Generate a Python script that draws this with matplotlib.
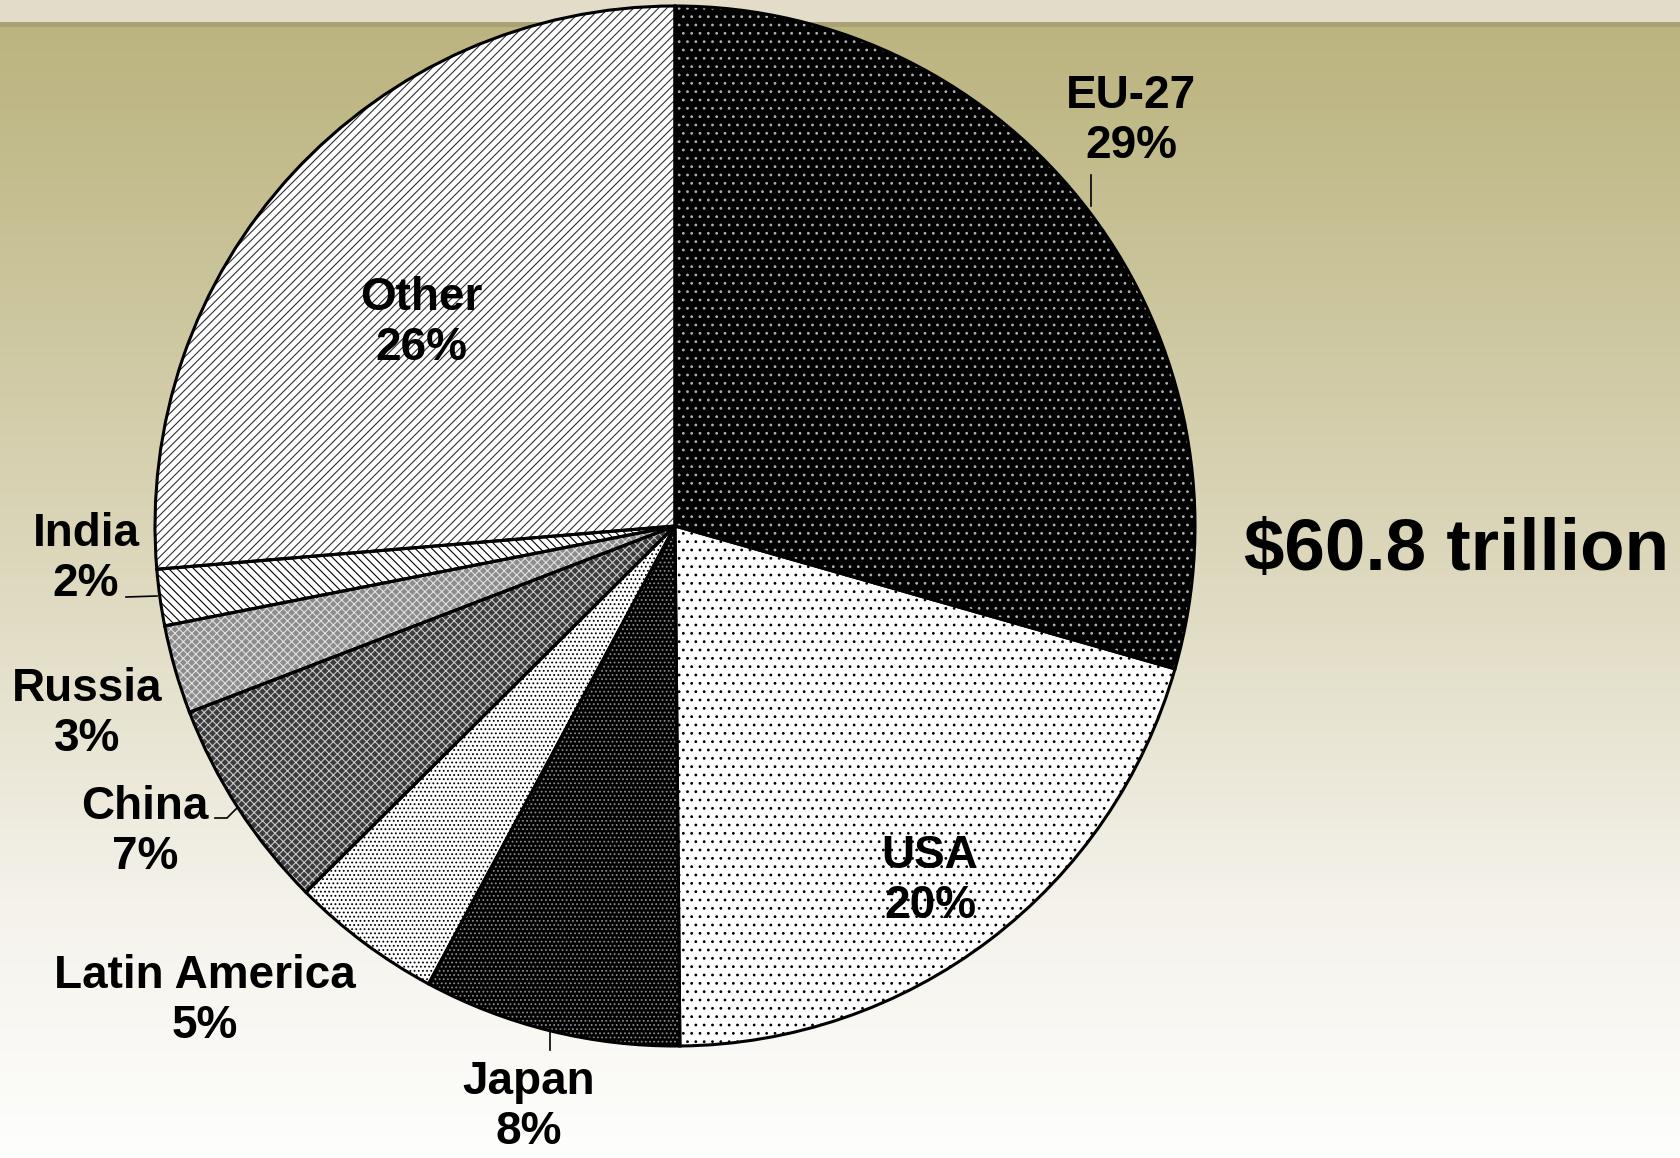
"""Pie chart: world GDP split by economy, total $60.8 trillion."""

import numpy as np
import matplotlib

matplotlib.use("Agg")
import matplotlib.pyplot as plt


REGIONS = ["EU-27", "USA", "Japan", "Latin America", "China", "Russia", "India", "Other"]
SHARES = [29.4, 20.4, 8.0, 4.7, 6.6, 2.75, 1.75, 26.3]
TOTAL_LABEL = "$60.8 trillion"

# fill / hatch-ink / hatch pattern per wedge (black & white print style)
FACES = ["#000000", "#ffffff", "#000000", "#ffffff", "#3c3c3c", "#8c8c8c", "#ffffff", "#ffffff"]
INKS = ["#b0b0b0", "#000000", "#8a8a8a", "#000000", "#c8c8c8", "#e0e0e0", "#000000", "#303030"]
HATCHES = ["..", "..", "....", "....", "xxxx", "xxxx", "\\\\\\\\", "////"]

W, H = 1681, 1158
CX, CY, R = 675, 526, 520

# label anchors in pixel coords (y measured from the top)
LABEL_POS = {
    "EU-27": (1131, 121),
    "USA": (930, 881),
    "Japan": (529, 1107),
    "Latin America": (205, 1001),
    "China": (145, 832),
    "Russia": (87, 714),
    "India": (86, 559),
    "Other": (421, 323),
}
LEADERS = {
    "EU-27": [(1091, 175), (1091, 206)],
    "Japan": [(550, 1030), (550, 1050)],
    "China": [(215, 818), (227, 818), (237, 808)],
    "India": [(126, 597), (157, 596)],
}

plt.rcParams["font.family"] = ["Liberation Sans", "DejaVu Sans"]
plt.rcParams["hatch.linewidth"] = 0.8


def background(ax):
    # olive banner fading to white, with a pale strip and rule at the top
    ys = np.arange(H)
    stops_y = [0, 21, 22, 26, 27, 120, 550, 900, 1158]
    stops = np.array([
        [226, 220, 201], [226, 220, 201], [168, 161, 115], [168, 161, 115],
        [188, 180, 128], [192, 185, 136], [220, 215, 187], [244, 242, 234], [254, 254, 253],
    ]) / 255.0
    col = np.stack([np.interp(ys, stops_y, stops[:, k]) for k in range(3)], axis=1)
    img = np.repeat(col[:, None, :], 2, axis=1)
    ax.imshow(img, extent=(0, W, 0, H), aspect="auto", zorder=0, origin="upper")


def main() -> None:
    fig = plt.figure(figsize=(W / 100, H / 100), dpi=100)
    ax = fig.add_axes([0, 0, 1, 1])
    background(ax)

    center = (CX, H - CY)
    wedges, _ = ax.pie(SHARES, startangle=90, counterclock=False, center=center,
                       radius=R, colors=FACES, wedgeprops=dict(linewidth=0))
    for w, ink, hatch in zip(wedges, INKS, HATCHES):
        w.set_edgecolor(ink)
        w.set_linewidth(0)
        w.set_hatch(hatch)
        w.set_zorder(2)

    outlines, _ = ax.pie(SHARES, startangle=90, counterclock=False, center=center,
                         radius=R, wedgeprops=dict(fill=False, edgecolor="black", linewidth=2.2))
    for w in outlines:
        w.set_zorder(3)

    for name, share in zip(REGIONS, SHARES):
        x, y = LABEL_POS[name]
        ax.text(x, H - y, f"{name}\n{share:.0f}%", ha="center", va="center",
                fontsize=33, fontweight="bold", linespacing=1.2, zorder=5)
    for pts in LEADERS.values():
        xs = [p[0] for p in pts]
        ys = [H - p[1] for p in pts]
        ax.plot(xs, ys, color="black", linewidth=1.2, zorder=4)

    ax.text(1244, H - 551, TOTAL_LABEL, ha="left", va="center",
            fontsize=52.5, fontweight="bold", zorder=5)

    ax.set_xlim(0, W)
    ax.set_ylim(0, H)
    ax.set_aspect("auto")
    ax.axis("off")
    fig.savefig("out.png", dpi=100)


if __name__ == "__main__":
    main()
